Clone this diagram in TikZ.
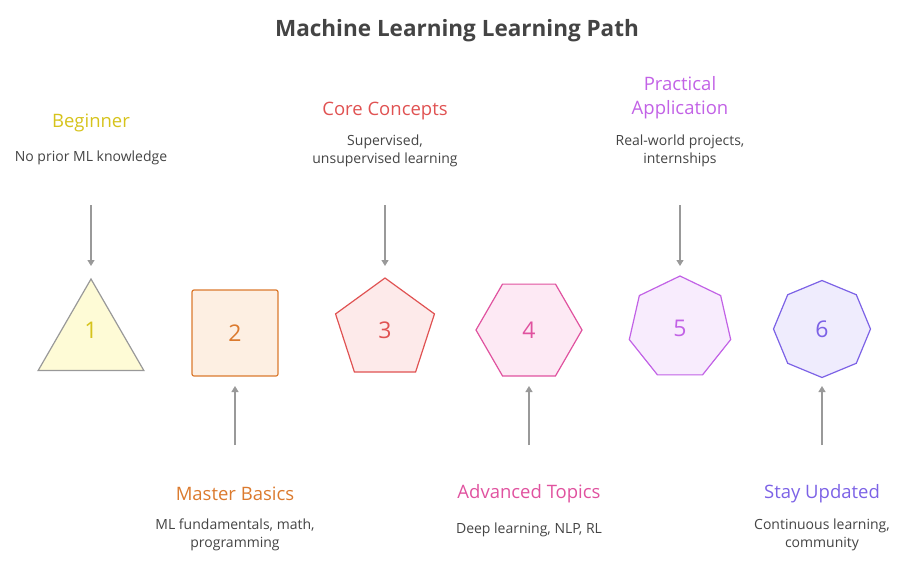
\documentclass[tikz,border=0pt]{standalone}
\usepackage{fontspec}
\setmainfont{Open Sans}
\usetikzlibrary{shapes.geometric,arrows.meta}
\definecolor{cy}{HTML}{D6C31C}\definecolor{fy}{HTML}{FEFBD6}
\definecolor{co}{HTML}{DB7A2E}\definecolor{fo}{HTML}{FDEFE2}
\definecolor{cr}{HTML}{E05252}\definecolor{fr}{HTML}{FDEAEA}
\definecolor{cp}{HTML}{E0529F}\definecolor{fp}{HTML}{FDE9F4}
\definecolor{cv}{HTML}{C262E6}\definecolor{fv}{HTML}{F8ECFD}
\definecolor{ci}{HTML}{7C62E6}\definecolor{fi}{HTML}{EFECFD}
\definecolor{gr}{HTML}{999999}\definecolor{tx}{HTML}{444444}
\begin{document}
\begin{tikzpicture}[x=1pt,y=-1pt,
 shp/.style={draw=#1,line width=1.2pt,text=#1,font=\fontsize{23}{26}\selectfont,inner sep=0pt},
 ttl/.style={text=#1,font=\fontsize{18.5}{24}\selectfont,align=center},
 dsc/.style={text=tx,font=\fontsize{14}{18}\selectfont,align=center},
 arr/.style={draw=gr,line width=1.2pt,-{Stealth[length=6pt,width=7pt,inset=0pt]}}]
\useasboundingbox (0,0) rectangle (919,576);
\node[font=\bfseries\fontsize{22.5}{26}\selectfont,text=tx] (t) at (457,31) {Machine Learning Learning Path};
% shapes
\node[shp=gr,fill=fy,regular polygon,regular polygon sides=3,minimum size=122] (s1) at (91,340) {};
\node[text=cy,font=\fontsize{23}{26}\selectfont] (n1) at (91,330) {1};
\node[shp=co,fill=fo,rectangle,rounded corners=2pt,minimum size=86] (s2) at (235,333) {2};
\node[shp=cr,fill=fr,regular polygon,regular polygon sides=5,minimum size=104] (s3) at (385,330) {3};
\node[shp=cp,fill=fp,regular polygon,regular polygon sides=6,minimum size=106] (s4) at (529,330) {4};
\node[shp=ci,fill=fi,regular polygon,regular polygon sides=8,minimum size=97,shape border rotate=22.5] (s6) at (822,329) {6};
\node[shp=cv,fill=fv,regular polygon,regular polygon sides=7,minimum size=104] (s5) at (680,328) {5};
% top labels
\node[ttl=cy] (l1) at (91,123) {Beginner};
\node[dsc] (d1) at (91,158) {No prior ML knowledge};
\node[ttl=cr] (l3) at (385,111) {Core Concepts};
\node[dsc] (d3) at (385,151) {Supervised,\\unsupervised learning};
\node[ttl=cv] (l5) at (680,98) {Practical\\Application};
\node[dsc] (d5) at (680,151) {Real-world projects,\\internships};
% bottom labels
\node[ttl=co] (l2) at (235,494) {Master Basics};
\node[dsc] (d2) at (235,535) {ML fundamentals, math,\\programming};
\node[ttl=cp] (l4) at (529,494) {Advanced Topics};
\node[dsc] (d4) at (529,530) {Deep learning, NLP, RL};
\node[ttl=ci] (l6) at (822,494) {Stay Updated};
\node[dsc] (d6) at (822,535) {Continuous learning,\\community};
% arrows
\coordinate (a1) at (91,205);\coordinate (b1) at (91,266);
\coordinate (a3) at (385,205);\coordinate (b3) at (385,266);
\coordinate (a5) at (680,205);\coordinate (b5) at (680,266);
\coordinate (a2) at (235,445);\coordinate (b2) at (235,386);
\coordinate (a4) at (529,445);\coordinate (b4) at (529,386);
\coordinate (a6) at (822,445);\coordinate (b6) at (822,386);
\foreach \i in {1,...,6}{\draw[arr] (a\i) -- (b\i);}
\end{tikzpicture}
\end{document}
